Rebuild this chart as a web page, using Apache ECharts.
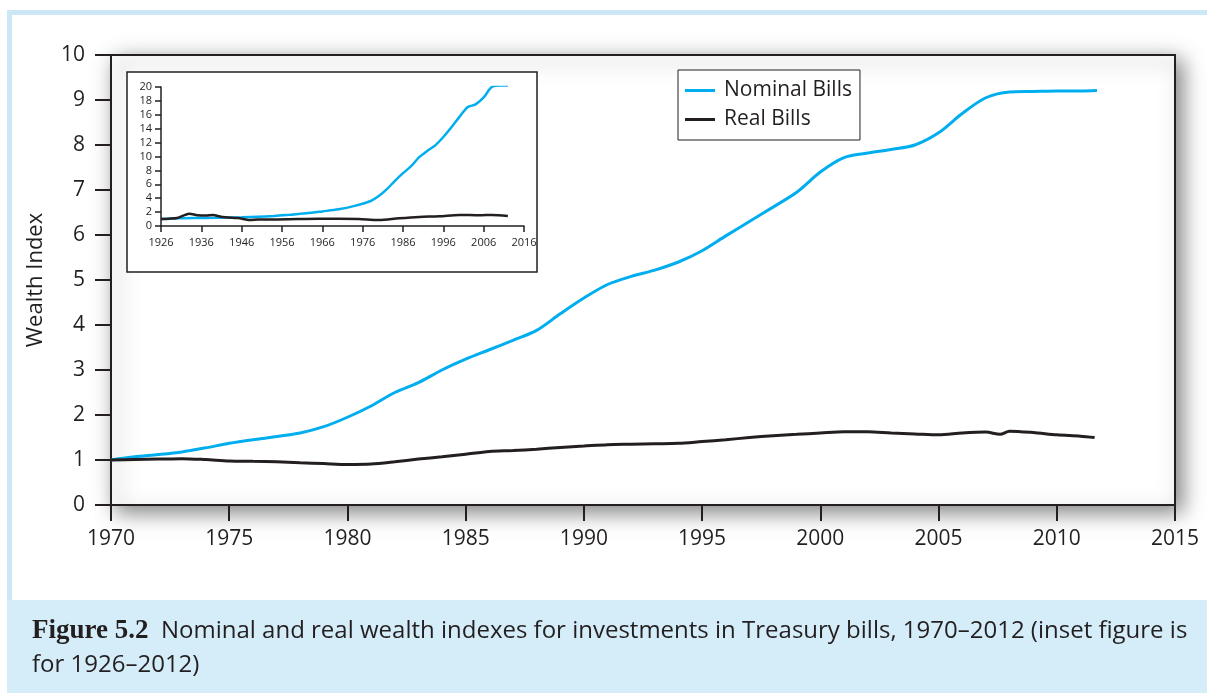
<!DOCTYPE html>
<html>
<head>
<meta charset="utf-8">
<script src="https://cdn.jsdelivr.net/npm/echarts@6/dist/echarts.min.js"></script>
<style>
  html, body { margin: 0; padding: 0; background: #fff; }
  #chart { width: 1207px; height: 693px; }
</style>
</head>
<body>
<div id="chart"></div>
<script>
// main chart, 1970-2012
const nominalYears = [1970, 1971, 1972, 1973, 1974, 1975, 1976, 1977, 1978, 1979, 1980, 1981, 1982, 1983, 1984, 1985, 1986, 1987, 1988, 1989, 1990, 1991, 1992, 1993, 1994, 1995, 1996, 1997, 1998, 1999, 2000, 2001, 2002, 2003, 2004, 2005, 2006, 2007, 2008, 2009, 2010, 2011, 2011.7]
const nominalBills = [1.00, 1.07, 1.12, 1.18, 1.27, 1.37, 1.45, 1.52, 1.60, 1.74, 1.95, 2.20, 2.50, 2.72, 3.00, 3.24, 3.45, 3.66, 3.88, 4.25, 4.60, 4.90, 5.08, 5.22, 5.40, 5.65, 5.98, 6.30, 6.62, 6.95, 7.40, 7.72, 7.82, 7.90, 8.00, 8.27, 8.70, 9.05, 9.18, 9.19, 9.20, 9.20, 9.21]
const realYears = [1970, 1971, 1972, 1973, 1974, 1975, 1976, 1977, 1978, 1979, 1980, 1981, 1982, 1983, 1984, 1985, 1986, 1987, 1988, 1989, 1990, 1991, 1992, 1993, 1994, 1995, 1996, 1997, 1998, 1999, 2000, 2001, 2002, 2003, 2004, 2005, 2006, 2007, 2007.6, 2008, 2009, 2010, 2011, 2011.6]
const realBills = [1.00, 1.01, 1.02, 1.03, 1.01, 0.98, 0.97, 0.96, 0.94, 0.92, 0.90, 0.91, 0.96, 1.02, 1.07, 1.13, 1.19, 1.21, 1.24, 1.28, 1.31, 1.34, 1.35, 1.36, 1.37, 1.41, 1.45, 1.50, 1.54, 1.57, 1.60, 1.63, 1.63, 1.60, 1.58, 1.56, 1.60, 1.62, 1.57, 1.64, 1.61, 1.56, 1.53, 1.50]

// inset, 1926-2012
const insetNominalYears = [1926, 1930, 1934, 1940, 1946, 1950, 1954, 1958, 1962, 1966, 1970, 1974, 1978, 1980, 1982, 1984, 1986, 1988, 1990, 1992, 1994, 1996, 1998, 2000, 2002, 2004, 2006, 2008, 2010, 2012]
const insetNominal = [1.0, 1.1, 1.15, 1.18, 1.25, 1.32, 1.45, 1.62, 1.82, 2.1, 2.4, 2.9, 3.6, 4.3, 5.3, 6.5, 7.6, 8.6, 9.9, 10.8, 11.6, 12.8, 14.2, 15.7, 17.1, 17.5, 18.5, 20.0, 20.2, 20.2]
const insetRealYears = [1926, 1928, 1930, 1932, 1933, 1935, 1937, 1939, 1940, 1942, 1945, 1947, 1948, 1950, 1955, 1960, 1965, 1970, 1975, 1980, 1985, 1990, 1995, 2000, 2005, 2008, 2012]
const insetReal = [1.0, 1.05, 1.15, 1.6, 1.75, 1.55, 1.5, 1.6, 1.45, 1.25, 1.15, 0.95, 0.85, 0.92, 0.95, 1.0, 1.05, 1.05, 1.0, 0.85, 1.1, 1.3, 1.4, 1.6, 1.55, 1.6, 1.45]
const insetStart = 1926

const blue = '#00aeef'
const ink = '#231f20'
const font = 'Open Sans'

const pairs = (xs, ys, off = 0) => xs.map((x, i) => [x - off, ys[i]])

const chart = echarts.init(document.getElementById('chart'))
const option = {
  backgroundColor: '#fff',
  animation: false,
  textStyle: { fontFamily: font, color: ink },
  legend: {
    data: ['Nominal Bills', 'Real Bills'],
    orient: 'vertical',
    left: 678,
    top: 70,
    icon: 'rect',
    itemWidth: 30,
    itemHeight: 3,
    itemGap: 8,
    padding: [10, 8, 10, 7],
    borderColor: ink,
    borderWidth: 1,
    backgroundColor: '#fff',
    textStyle: { fontSize: 21, color: ink, fontFamily: font, lineHeight: 21, padding: [0, 0, 0, 4] }
  },
  grid: [
    {
      left: 111, right: 32, top: 55, bottom: 188,
      show: true,
      backgroundColor: '#fff',
      borderColor: ink,
      borderWidth: 2,
      shadowColor: 'rgba(0,0,0,0.5)',
      shadowBlur: 20,
      shadowOffsetX: 6,
      shadowOffsetY: 6
    },
    { left: 161, right: 683, top: 87, bottom: 467 }
  ],
  xAxis: [
    {
      type: 'value', gridIndex: 0,
      min: 1970, max: 2015, interval: 5,
      axisLine: { lineStyle: { color: ink, width: 2 } },
      axisTick: { length: 16, lineStyle: { color: ink, width: 2 } },
      axisLabel: { fontSize: 21, color: ink, margin: 24, formatter: v => String(v) },
      splitLine: { show: false }
    },
    {
      type: 'value', gridIndex: 1, z: 8,
      min: 0, max: 90, interval: 10,
      axisLine: { lineStyle: { color: ink, width: 1.5 } },
      axisTick: { length: 6, lineStyle: { color: ink, width: 1.5 } },
      axisLabel: { fontSize: 11, color: ink, margin: 11, formatter: v => String(v + insetStart) },
      splitLine: { show: false }
    }
  ],
  yAxis: [
    {
      type: 'value', gridIndex: 0,
      min: 0, max: 10, interval: 1,
      name: 'Wealth Index',
      nameLocation: 'middle',
      nameGap: 64,
      nameTextStyle: { fontSize: 22, color: ink, fontFamily: font },
      axisLine: { show: true, lineStyle: { color: ink, width: 2 } },
      axisTick: { show: true, length: 16, lineStyle: { color: ink, width: 2 } },
      axisLabel: { fontSize: 21, color: ink, margin: 26 },
      splitLine: { show: false }
    },
    {
      type: 'value', gridIndex: 1, z: 8,
      min: 0, max: 20, interval: 2,
      axisLine: { show: true, lineStyle: { color: ink, width: 1.5 } },
      axisTick: { show: true, length: 6, lineStyle: { color: ink, width: 1.5 } },
      axisLabel: { fontSize: 11, color: ink, margin: 9 },
      splitLine: { show: false }
    }
  ],
  series: [
    {
      name: 'Nominal Bills', type: 'line', xAxisIndex: 0, yAxisIndex: 0,
      data: pairs(nominalYears, nominalBills),
      smooth: 0.3, showSymbol: false,
      itemStyle: { color: blue },
      lineStyle: { color: blue, width: 3 }, z: 3
    },
    {
      name: 'Real Bills', type: 'line', xAxisIndex: 0, yAxisIndex: 0,
      data: pairs(realYears, realBills),
      smooth: 0.3, showSymbol: false,
      itemStyle: { color: ink },
      lineStyle: { color: ink, width: 3 }, z: 3
    },
    {
      name: 'Nominal Bills', type: 'line', xAxisIndex: 1, yAxisIndex: 1,
      data: pairs(insetNominalYears, insetNominal, insetStart),
      smooth: 0.3, showSymbol: false,
      itemStyle: { color: blue },
      lineStyle: { color: blue, width: 2.5 }, z: 6
    },
    {
      name: 'Real Bills', type: 'line', xAxisIndex: 1, yAxisIndex: 1,
      data: pairs(insetRealYears, insetReal, insetStart),
      smooth: 0.3, showSymbol: false,
      itemStyle: { color: ink },
      lineStyle: { color: ink, width: 2.5 }, z: 7
    }
  ],
  graphic: [
    // light blue frame
    { type: 'rect', shape: { x: 7, y: 10, width: 1200, height: 5 }, style: { fill: '#cce8f7' }, silent: true },
    { type: 'rect', shape: { x: 7, y: 10, width: 5, height: 590 }, style: { fill: '#cce8f7' }, silent: true },
    // caption band
    { type: 'rect', shape: { x: 7, y: 600, width: 1200, height: 93 }, style: { fill: '#d5ecf9' }, silent: true },
    // inset box
    {
      type: 'rect', z: 4,
      shape: { x: 127, y: 72, width: 410, height: 200 },
      style: { fill: '#fff', stroke: ink, lineWidth: 1.5 }, silent: true
    },
    {
      type: 'text', left: 32, top: 618, silent: true,
      style: {
        text: '{b|Figure 5.2}{n|  Nominal and real wealth indexes for investments in Treasury bills, 1970–2012 (inset figure is}',
        rich: {
          b: { fontFamily: 'Liberation Serif', fontWeight: 'bold', fontSize: 27, fill: ink },
          n: { fontFamily: font, fontSize: 24, fill: ink }
        }
      }
    },
    {
      type: 'text', left: 32, top: 653, silent: true,
      style: { text: 'for 1926–2012)', fontFamily: font, fontSize: 24, fill: ink }
    }
  ]
}
option && chart.setOption(option)
</script>
</body>
</html>
